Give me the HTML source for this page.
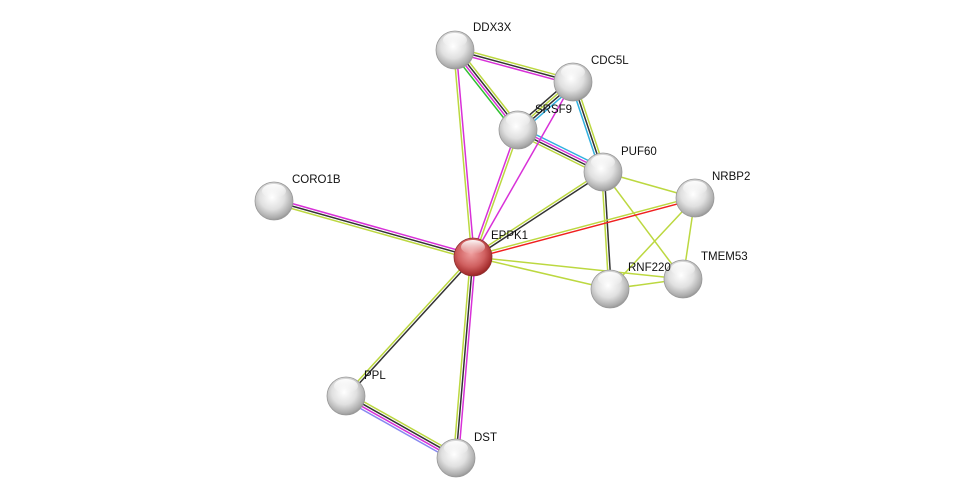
<!DOCTYPE html>
<html><head><meta charset="utf-8"><style>
html,body{margin:0;padding:0;background:#fff;width:975px;height:504px;overflow:hidden}
svg text{font-family:"Liberation Sans",sans-serif;font-size:11.5px;fill:#111}
</style></head><body>
<svg id="s" width="975" height="504" xmlns="http://www.w3.org/2000/svg">
<defs>
<radialGradient id="g" cx="0.45" cy="0.4" r="0.65">
<stop offset="0" stop-color="#ffffff"/><stop offset="0.5" stop-color="#e0e0e0"/><stop offset="0.85" stop-color="#aaaaaa"/><stop offset="1" stop-color="#858585"/></radialGradient>
<radialGradient id="r" cx="0.45" cy="0.4" r="0.65">
<stop offset="0" stop-color="#f0a0a0"/><stop offset="0.55" stop-color="#d06060"/><stop offset="0.85" stop-color="#a83030"/><stop offset="1" stop-color="#801818"/></radialGradient>
<linearGradient id="h" x1="0" y1="0" x2="0" y2="1"><stop offset="0" stop-color="#fff" stop-opacity="0.95"/><stop offset="1" stop-color="#fff" stop-opacity="0"/></linearGradient>
</defs>
<g id="e"></g><g id="n"></g>
<text x="473" y="31">DDX3X</text>
<text x="591" y="64">CDC5L</text>
<text x="535" y="113">SRSF9</text>
<text x="621" y="155">PUF60</text>
<text x="712" y="180">NRBP2</text>
<text x="292" y="183">CORO1B</text>
<text x="491" y="239">EPPK1</text>
<text x="701" y="260">TMEM53</text>
<text x="628" y="271">RNF220</text>
<text x="364" y="379">PPL</text>
<text x="474" y="441">DST</text>
</svg>
<script>
var N={DDX3X:[455,50],CDC5L:[573,82],SRSF9:[518,130],PUF60:[603,172],NRBP2:[695,198],CORO1B:[274,201],EPPK1:[473,257],TMEM53:[683,279],RNF220:[610,289],PPL:[346,396],DST:[456,458]};
var C={y:"#bcd840",k:"#333",m:"#d830d8",c:"#30b0e0",g:"#30c030",r:"#f02020",b:"#8888f0"};
var E=[["DDX3X","CDC5L","ykm"],["DDX3X","SRSF9","ykmg"],["DDX3X","EPPK1","my"],["CDC5L","SRSF9","ckyk"],["CDC5L","PUF60","ykc"],["SRSF9","PUF60","cmky"],["SRSF9","EPPK1","ym"],["CDC5L","EPPK1","m"],["PUF60","EPPK1","ky"],["PUF60","NRBP2","y"],["PUF60","RNF220","ky"],["PUF60","TMEM53","y"],["NRBP2","EPPK1","ry"],["NRBP2","RNF220","y"],["NRBP2","TMEM53","y"],["TMEM53","RNF220","y"],["EPPK1","RNF220","y"],["EPPK1","TMEM53","y"],["CORO1B","EPPK1","mky"],["EPPK1","PPL","ky"],["EPPK1","DST","mky"],["PPL","DST","ykmb"]];
var ns="http://www.w3.org/2000/svg",eg=document.getElementById("e"),ng=document.getElementById("n");
E.forEach(function(e){var a=N[e[0]],b=N[e[1]],dx=b[0]-a[0],dy=b[1]-a[1],L=Math.hypot(dx,dy),px=-dy/L,py=dx/L,n=e[2].length;
for(var i=0;i<n;i++){var o=(i-(n-1)/2)*2.5;var l=document.createElementNS(ns,"line");
l.setAttribute("x1",a[0]+px*o);l.setAttribute("y1",a[1]+py*o);l.setAttribute("x2",b[0]+px*o);l.setAttribute("y2",b[1]+py*o);
l.setAttribute("stroke",C[e[2][i]]);l.setAttribute("stroke-width","1.5");eg.appendChild(l);}});
for(var k in N){var p=N[k];var c=document.createElementNS(ns,"circle");c.setAttribute("cx",p[0]);c.setAttribute("cy",p[1]);c.setAttribute("r",19);
c.setAttribute("fill",k=="EPPK1"?"url(#r)":"url(#g)");c.setAttribute("stroke",k=="EPPK1"?"#903030":"#999");c.setAttribute("stroke-width","0.8");ng.appendChild(c);
var h=document.createElementNS(ns,"ellipse");h.setAttribute("cx",p[0]);h.setAttribute("cy",p[1]-10);h.setAttribute("rx",12);h.setAttribute("ry",7);h.setAttribute("fill","url(#h)");ng.appendChild(h);}
</script>
</body></html>
